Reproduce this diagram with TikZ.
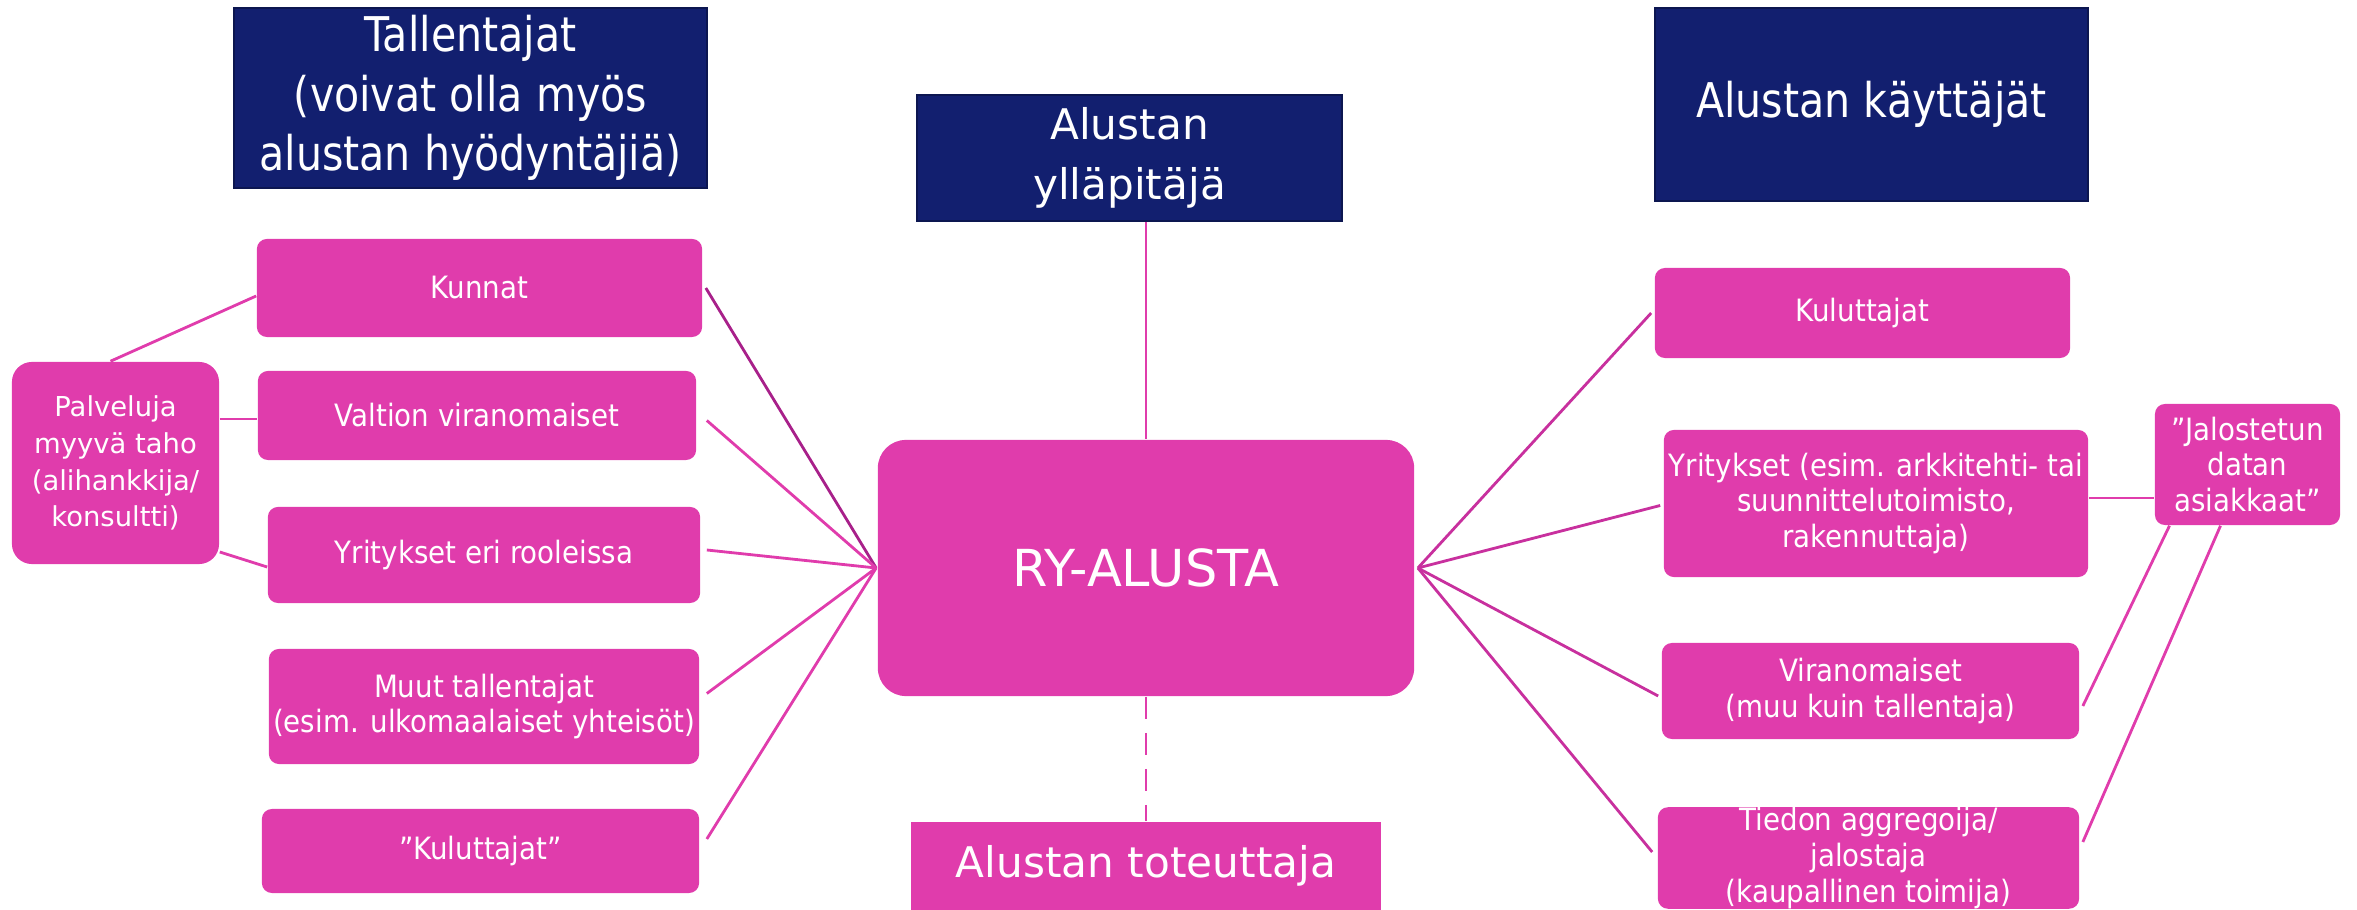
\documentclass[tikz,border=0pt]{standalone}
\usepackage{fontspec}
\setmainfont{DejaVu Sans}
\newfontfamily\condf[FakeStretch=0.86]{DejaVu Sans}
\newfontfamily\bodyf[FakeStretch=0.90]{DejaVu Sans}
\definecolor{navy}{HTML}{121F6F}
\definecolor{navyedge}{HTML}{0C1650}
\definecolor{mag}{HTML}{E03CAC}
\definecolor{darkline}{HTML}{A8208A}
\definecolor{midline}{HTML}{C8309E}
\tikzset{
  hdr/.style={fill=navy, draw=navyedge, line width=0.5pt, text=white, align=center, inner sep=0pt},
  pbox/.style={fill=mag, draw=none, text=white, align=center, inner sep=0pt, rounded corners=0.1cm},
  body/.style={font=\bodyf\fontsize{8.75}{10.2}\selectfont},
  head/.style={font=\condf\fontsize{13.6}{17}\selectfont},
  link/.style={draw=mag, line width=0.8pt},
  darklink/.style={draw=darkline, line width=0.8pt},
  midlink/.style={draw=midline, line width=0.8pt}
}
\begin{document}
\begin{tikzpicture}[x=0.01cm,y=-0.01cm]
\useasboundingbox (0,0) rectangle (2357,910);
% headers
\node[hdr, head, minimum width=4.73cm, minimum height=1.80cm] (tal) at (470.5,98) {Tallentajat\\(voivat olla myös\\alustan hyödyntäjiä)};
\node[hdr, font=\fontsize{12}{17}\selectfont, minimum width=4.25cm, minimum height=1.26cm] (yll) at (1129.5,158) {Alustan\\ylläpitäjä};
\node[hdr, head, minimum width=4.33cm, minimum height=1.93cm] (kay) at (1871.5,104.5) {Alustan käyttäjät};
% left boxes
\node[pbox, body, minimum width=4.45cm, minimum height=0.98cm] (kun) at (479.5,288) {Kunnat};
\node[pbox, body, minimum width=4.38cm, minimum height=0.89cm] (val) at (477,415.5) {Valtion viranomaiset};
\node[pbox, body, minimum width=4.32cm, minimum height=0.96cm] (yre) at (484,555) {Yritykset eri rooleissa};
\node[pbox, body, minimum width=4.30cm, minimum height=1.15cm] (muu) at (484,706.5) {Muut tallentajat\\(esim. ulkomaalaiset yhteisöt)};
\node[pbox, body, minimum width=4.37cm, minimum height=0.84cm] (kul) at (480.5,851) {”Kuluttajat”};
\node[pbox, font=\fontsize{7.8}{10.5}\selectfont, rounded corners=0.2cm, minimum width=2.07cm, minimum height=2.02cm] (pal) at (115.5,463) {Palveluja\\myyvä taho\\(alihankkija/\\konsultti)};
% centre
\node[pbox, font=\fontsize{14.5}{17}\selectfont, rounded corners=0.28cm, minimum width=5.36cm, minimum height=2.56cm] (ry) at (1146,568) {RY-ALUSTA};
\node[pbox, font=\fontsize{12}{15}\selectfont, rounded corners=0pt, minimum width=4.70cm, minimum height=0.88cm] (tot) at (1146,866) {Alustan toteuttaja};
% right boxes
\node[pbox, body, minimum width=4.15cm, minimum height=0.90cm] (rkul) at (1862.5,313) {Kuluttajat};
\node[pbox, body, minimum width=4.24cm, minimum height=1.47cm] (ryr) at (1876,503.5) {Yritykset (esim. arkkitehti- tai\\suunnittelutoimisto,\\rakennuttaja)};
\node[pbox, body, minimum width=4.17cm, minimum height=0.96cm] (rvir) at (1870.5,691) {Viranomaiset\\(muu kuin tallentaja)};
\node[pbox, body, minimum width=4.21cm, minimum height=0.98cm] (rtie) at (1868.5,858) {Tiedon aggregoija/\\jalostaja\\(kaupallinen toimija)};
\node[pbox, body, minimum width=1.85cm, minimum height=1.21cm] (jal) at (2247.5,464.5) {”Jalostetun\\datan\\asiakkaat”};
% connectors left
\coordinate (rw) at ([shift={(-1,0)}]ry.west);
\draw[darklink] ([shift={(3,0)}]kun.east) -- (rw);
\draw[link] ([shift={(10,5)}]val.east) -- (rw);
\draw[link] ([shift={(6,-5)}]yre.east) -- (rw);
\draw[link] ([shift={(7,-13)}]muu.east) -- (rw);
\draw[link] ([shift={(7,-12)}]kul.east) -- (rw);
\draw[link] ([shift={(-5,0)}]pal.north) -- ([shift={(0,8)}]kun.west);
\draw[link] (pal.east |- {(0,419)}) -- (val.west |- {(0,419)});
\draw[link] (pal.east |- {(0,552)}) -- ([shift={(0,12)}]yre.west);
% centre
\draw[link] (ry.north |- yll.south) -- (ry.north);
\draw[link, dash pattern=on 0.22cm off 0.14cm] (ry.south) -- (tot.north);
% right
\coordinate (re) at ([shift={(3,0)}]ry.east);
\draw[midlink] (re) -- ([shift={(-3,0)}]rkul.west);
\draw[midlink] (re) -- ([shift={(-3,2)}]ryr.west);
\draw[midlink] (re) -- ([shift={(-3,5)}]rvir.west);
\draw[midlink] (re) -- ([shift={(-5,-6)}]rtie.west);
\draw[link] (ryr.east |- {(0,498)}) -- (jal.west |- {(0,498)});
\draw[link] ([shift={(-78,0)}]jal.south) -- ([shift={(3,15)}]rvir.east);
\draw[link] ([shift={(-27,0)}]jal.south) -- ([shift={(3,-16)}]rtie.east);
\end{tikzpicture}
\end{document}
